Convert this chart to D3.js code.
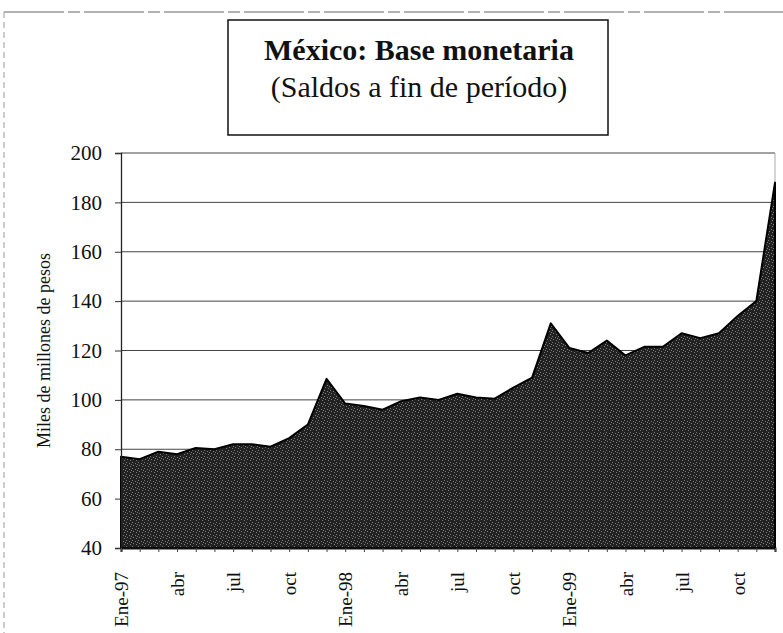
<!DOCTYPE html>
<html>
<head>
<meta charset="utf-8">
<script src="https://cdn.jsdelivr.net/npm/d3@7"></script>
<style>
  body { margin: 0; background: #fff; }
  svg { display: block; font-family: "Liberation Serif", "DejaVu Serif", serif; }
</style>
</head>
<body>
<script>
// months Jan-97 .. Dec-99
const months = [
  "97-01","97-02","97-03","97-04","97-05","97-06","97-07","97-08","97-09","97-10","97-11","97-12",
  "98-01","98-02","98-03","98-04","98-05","98-06","98-07","98-08","98-09","98-10","98-11","98-12",
  "99-01","99-02","99-03","99-04","99-05","99-06","99-07","99-08","99-09","99-10","99-11","99-12"
];
// base monetaria, miles de millones de pesos (saldos a fin de periodo)
const baseMonetaria = [
  77, 76, 79, 78, 80.5, 80, 82, 82, 81, 84.5, 90, 108.5,
  98.5, 97.5, 96, 99.5, 101, 100, 102.5, 101, 100.5, 105, 109, 131,
  121, 119, 124, 118, 121.5, 121.5, 127, 125, 127, 134, 140, 188
];
const tickMonths = ["97-01","97-04","97-07","97-10","98-01","98-04","98-07","98-10","99-01","99-04","99-07","99-10"];
const tickTexts  = ["Ene-97","abr","jul","oct","Ene-98","abr","jul","oct","Ene-99","abr","jul","oct"];
const yTicks = [40, 60, 80, 100, 120, 140, 160, 180, 200];

const width = 783, height = 633;
const margin = {top: 153, right: 8, bottom: 85, left: 121};

const x = d3.scalePoint().domain(months).range([margin.left, width - margin.right]);
const y = d3.scaleLinear().domain([40, 200]).range([height - margin.bottom, margin.top]);

const svg = d3.select("body").append("svg")
    .attr("width", width)
    .attr("height", height);

// speckled dark fill like the scanned print
const defs = svg.append("defs");
const pat = defs.append("pattern")
    .attr("id", "stipple")
    .attr("patternUnits", "userSpaceOnUse")
    .attr("width", 6).attr("height", 6);
pat.append("rect").attr("width", 6).attr("height", 6).attr("fill", "#222");
[[0,0],[3,1],[1,3],[4,4],[5,2]].forEach(([px, py]) => {
  pat.append("rect").attr("x", px).attr("y", py).attr("width", 1).attr("height", 1).attr("fill", "#7a7a7a");
});

// outer frame (faint, broken)
svg.append("line").attr("x1", 4).attr("x2", width).attr("y1", 12).attr("y2", 12)
    .attr("stroke", "#666").attr("stroke-dasharray", "60 4 12 4");
svg.append("line").attr("x1", 4).attr("x2", 4).attr("y1", 12).attr("y2", height)
    .attr("stroke", "#999").attr("stroke-dasharray", "6 4");

// gridlines
svg.append("g")
  .selectAll("line")
  .data(yTicks.filter(d => d > 40))
  .join("line")
    .attr("x1", margin.left).attr("x2", width - margin.right)
    .attr("y1", d => y(d)).attr("y2", d => y(d))
    .attr("stroke", "#444").attr("stroke-width", 1);

// right border of plot
svg.append("line")
    .attr("x1", width - margin.right).attr("x2", width - margin.right)
    .attr("y1", y(200)).attr("y2", y(40))
    .attr("stroke", "#aaa");

// area
const area = d3.area()
    .x((d, i) => x(months[i]))
    .y0(y(40))
    .y1(d => y(d));

svg.append("path")
    .datum(baseMonetaria)
    .attr("d", area)
    .attr("fill", "url(#stipple)")
    .attr("stroke", "#000")
    .attr("stroke-width", 2)
    .attr("stroke-linejoin", "round");

// y axis
const yAxis = svg.append("g")
    .attr("transform", `translate(${margin.left},0)`)
    .call(d3.axisLeft(y).tickValues(yTicks).tickSize(6).tickPadding(13));
yAxis.select(".domain").attr("stroke", "#222").attr("stroke-width", 1.3);
yAxis.selectAll(".tick line").attr("stroke", "#333");
yAxis.selectAll("text")
    .attr("font-family", "Liberation Serif, serif")
    .attr("font-size", 21)
    .attr("fill", "#111");

// x axis
const xAxis = svg.append("g")
    .attr("transform", `translate(0,${y(40)})`)
    .call(d3.axisBottom(x).tickSize(4).tickFormat(""));
xAxis.select(".domain").attr("stroke", "#111").attr("stroke-width", 2);
xAxis.selectAll(".tick line").attr("stroke", "#444");

svg.append("g")
  .selectAll("text")
  .data(tickMonths)
  .join("text")
    .attr("transform", d => `translate(${x(d) + 7},${y(40) + 24}) rotate(-90)`)
    .attr("text-anchor", "end")
    .attr("font-size", 19)
    .attr("fill", "#111")
    .text((d, i) => tickTexts[i]);

// y axis title
svg.append("text")
    .attr("transform", `translate(50,${(y(40) + y(200)) / 2}) rotate(-90)`)
    .attr("text-anchor", "middle")
    .attr("font-size", 18)
    .attr("fill", "#111")
    .text("Miles de millones de pesos");

// title box
svg.append("rect")
    .attr("x", 228).attr("y", 20)
    .attr("width", 380).attr("height", 115)
    .attr("fill", "#fff")
    .attr("stroke", "#111").attr("stroke-width", 1.5);

svg.append("text")
    .attr("x", 419).attr("y", 60)
    .attr("text-anchor", "middle")
    .attr("font-size", 30)
    .attr("font-weight", "bold")
    .attr("fill", "#111")
    .text("México: Base monetaria");

svg.append("text")
    .attr("x", 419).attr("y", 97)
    .attr("text-anchor", "middle")
    .attr("font-size", 30)
    .attr("fill", "#111")
    .text("(Saldos a fin de período)");
</script>
</body>
</html>
